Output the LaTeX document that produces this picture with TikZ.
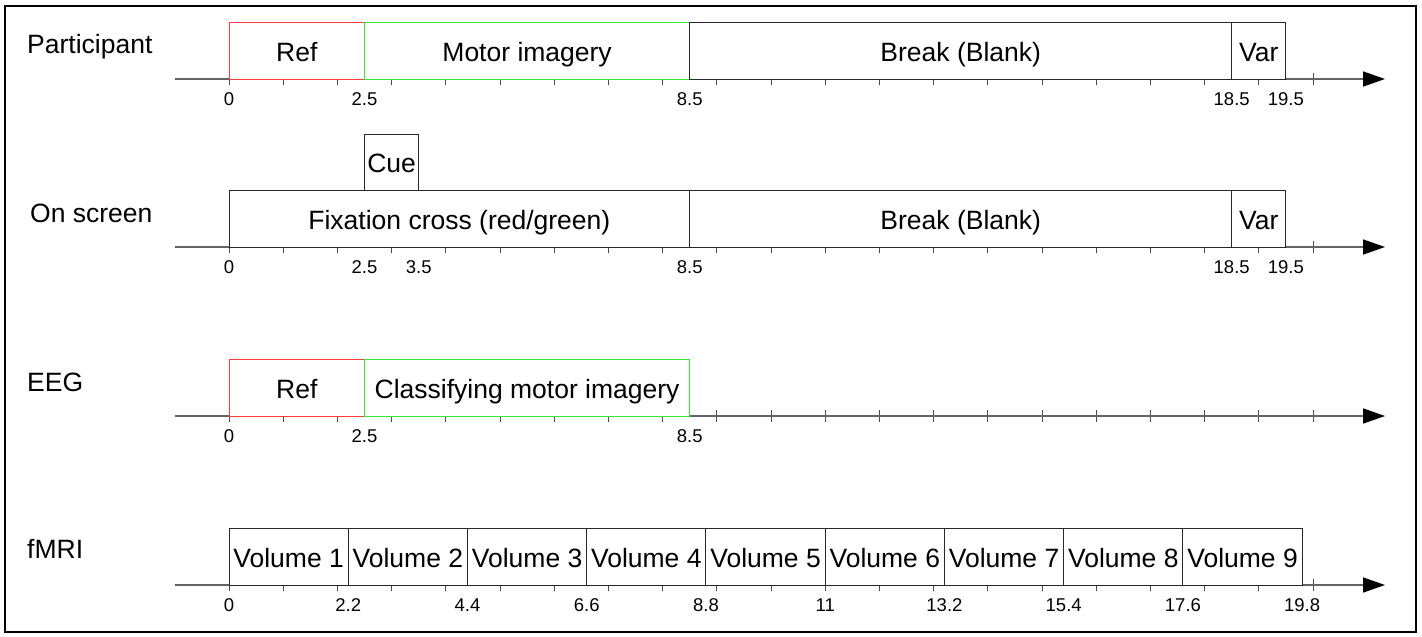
\documentclass[tikz,border=0pt]{standalone}
\usepackage{fontspec}
\setmainfont{Liberation Sans}
\usetikzlibrary{arrows.meta}
\definecolor{refred}{RGB}{255,60,60}
\definecolor{migreen}{RGB}{50,235,50}
\definecolor{axgray}{RGB}{100,100,100}
\definecolor{boxgray}{RGB}{40,40,40}
\newcommand\bigfnt{\fontsize{26.5}{30}\selectfont}
\newcommand\smlfnt{\fontsize{18.5}{21}\selectfont}
\tikzset{
  tbox/.style={draw=boxgray, fill=white, line width=1pt, inner sep=0pt, outer sep=0pt,
    anchor=south west, minimum height=56.5pt, text height=21pt, text depth=0pt, font=\bigfnt},
  rowlabel/.style={anchor=base west, inner sep=0pt, font=\bigfnt},
  ticklabel/.style={inner sep=0pt, font=\smlfnt},
  axisline/.style={draw=axgray, line width=1.5pt, -{Triangle[length=22pt,width=15pt,color=black]}},
  tickmark/.style={draw=black!70, line width=1pt},
}
% #1 name, #2 t0, #3 t1, #4 axis y, #5 colour, #6 text
\newcommand\tlbox[6]{%
  \node[tbox, draw=#5, minimum width={54.2pt*(#3-(#2))}] (#1) at ({229+54.2*(#2)},#4) {#6};}
\newcommand\tlaxis[2]{%
  \coordinate (#1s) at (175,#2);
  \coordinate (#1e) at (1385,#2);
  \foreach \t in {0,...,20} \draw[tickmark] ({229+54.2*\t},{#2-6}) -- ({229+54.2*\t},{#2+6});
  \draw[axisline] (#1s) -- (#1e);}
\newcommand\tklab[3]{\node[ticklabel] (#1) at ({229+54.2*(#2)},{#3+20}) {#2};}
\newcommand\tklabt[4]{\node[ticklabel] (#1) at ({229+54.2*(#2)},{#3+20}) {#4};}
\begin{document}
\begin{tikzpicture}[x=1pt,y=-1pt]
\useasboundingbox (0,0) rectangle (1422,637);
\draw[line width=2pt, black] (5,6) rectangle (1416,632);

% Participant
\node[rowlabel] (lp) at (27,53) {Participant};
\tlaxis{ap}{79}
\tlbox{p1}{0}{2.5}{79}{refred}{Ref}
\tlbox{p2}{2.5}{8.5}{79}{migreen}{Motor imagery}
\tlbox{p3}{8.5}{18.5}{79}{boxgray}{Break (Blank)}
\tlbox{p4}{18.5}{19.5}{79}{boxgray}{Var}
\tklab{pl0}{0}{79}\tklab{pl1}{2.5}{79}\tklab{pl2}{8.5}{79}\tklab{pl3}{18.5}{79}\tklab{pl4}{19.5}{79}

% On screen
\node[rowlabel] (ls) at (30,222) {On screen};
\tlaxis{as}{247}
\tlbox{s1}{0}{8.5}{247}{boxgray}{Fixation cross (red/green)}
\tlbox{s0}{2.5}{3.5}{190.5}{boxgray}{Cue}
\tlbox{s2}{8.5}{18.5}{247}{boxgray}{Break (Blank)}
\tlbox{s3}{18.5}{19.5}{247}{boxgray}{Var}
\tklab{sl0}{0}{247}\tklab{sl1}{2.5}{247}\tklab{sl2}{3.5}{247}\tklab{sl3}{8.5}{247}\tklab{sl4}{18.5}{247}\tklab{sl5}{19.5}{247}

% EEG
\node[rowlabel] (le) at (27,391) {EEG};
\tlaxis{ae}{416}
\tlbox{e1}{0}{2.5}{416}{refred}{Ref}
\tlbox{e2}{2.5}{8.5}{416}{migreen}{Classifying motor imagery}
\tklab{el0}{0}{416}\tklab{el1}{2.5}{416}\tklab{el2}{8.5}{416}

% fMRI
\node[rowlabel] (lf) at (27,558) {fMRI};
\tlaxis{af}{585}
\foreach \i in {1,...,9} {
  \pgfmathsetmacro\ta{2.2*(\i-1)}
  \pgfmathsetmacro\tb{2.2*\i}
  \tlbox{f\i}{\ta}{\tb}{585}{boxgray}{Volume \i}
}
\tklabt{fl0}{0}{585}{0}\tklabt{fl1}{2.2}{585}{2.2}\tklabt{fl2}{4.4}{585}{4.4}\tklabt{fl3}{6.6}{585}{6.6}
\tklabt{fl4}{8.8}{585}{8.8}\tklabt{fl5}{11}{585}{11}\tklabt{fl6}{13.2}{585}{13.2}\tklabt{fl7}{15.4}{585}{15.4}
\tklabt{fl8}{17.6}{585}{17.6}\tklabt{fl9}{19.8}{585}{19.8}
\end{tikzpicture}
\end{document}
